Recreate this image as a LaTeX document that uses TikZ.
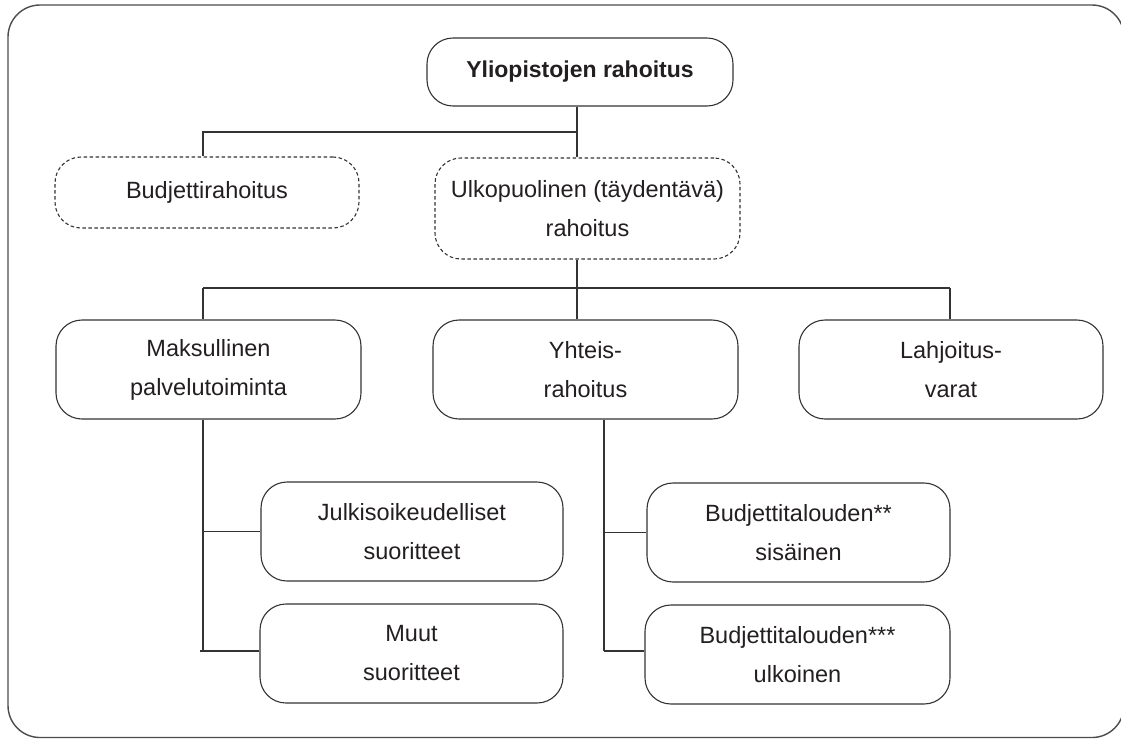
\documentclass[tikz,border=0pt]{standalone}
\usepackage{fontspec}
\setmainfont{Liberation Sans}
\definecolor{ink}{HTML}{231F20}
\definecolor{linec}{HTML}{333333}
\begin{document}
\begin{tikzpicture}[x=1pt,y=-1pt,
  box/.style={draw=linec, line width=1.1pt, rounded corners=26pt, align=center,
    text=ink, font=\fontsize{23.5}{39}\selectfont, inner sep=0pt},
  dbox/.style={box, dash pattern=on 3.5pt off 2.5pt},
  conn/.style={draw=linec, line width=1.1pt}]
\useasboundingbox (0,0) rectangle (1121,740);
\draw[line width=1.4pt, draw=black!70, rounded corners=32pt] (8,5) rectangle (1124,737.5);

\node[box, minimum width=306pt, minimum height=68pt, font=\fontsize{23}{39}\selectfont\bfseries] (top) at (580,72) {Yliopistojen rahoitus};
\node[dbox, minimum width=304pt, minimum height=71pt] (bud) at (207,192.5) {Budjettirahoitus};
\node[dbox, minimum width=305pt, minimum height=101pt] (ulko) at (587.5,208.5) {Ulkopuolinen (täydentävä)\\rahoitus};
\node[box, minimum width=305pt, minimum height=99pt] (mak) at (208.5,369.5) {Maksullinen\\palvelutoiminta};
\node[box, minimum width=305pt, minimum height=99pt] (yht) at (585.5,369.5) {Yhteis-\\rahoitus};
\node[box, minimum width=304pt, minimum height=99pt] (lah) at (951,369.5) {Lahjoitus-\\varat};
\node[box, minimum width=302pt, minimum height=99pt] (jul) at (412,531.5) {Julkisoikeudelliset\\suoritteet};
\node[box, minimum width=303pt, minimum height=99pt] (muu) at (411.5,653.5) {Muut\\suoritteet};
\node[box, minimum width=303pt, minimum height=99pt] (bsis) at (798.5,532.5) {Budjettitalouden**\\sisäinen};
\node[box, minimum width=305pt, minimum height=99pt] (bulk) at (797.5,654.5) {Budjettitalouden***\\ulkoinen};

% helper coordinates
\coordinate (xa) at (203,0);
\coordinate (xb) at (577,0);
\coordinate (xc) at (950,0);
\coordinate (xd) at (604,0);
\coordinate (j1) at (577,132);
\coordinate (j2) at (577,288);
\coordinate (ja) at (203,651);
\coordinate (jb) at (604,651);

% level 1
\draw[conn] (top.south -| xb) -- (ulko.north -| xb);
\draw[conn] (j1) -| (bud.north -| xa);
% level 2
\draw[conn] (ulko.south -| xb) -- (yht.north -| xb);
\draw[conn] (j2 -| xa) -- (j2 -| xc);
\draw[conn] (j2 -| xa) -- (mak.north -| xa);
\draw[conn] (j2 -| xc) -- (lah.north -| xc);
% level 3 left
\draw[conn] (mak.south -| xa) -- (ja);
\draw[conn] (jul.west -| xa) -- (jul.west);
\draw[conn] ([xshift=-3pt]ja) -- (muu.west |- ja);
% level 3 right
\draw[conn] (yht.south -| xd) -- (jb);
\draw[conn] (bsis.west -| xd) -- (bsis.west);
\draw[conn] (jb) -- (bulk.west |- jb);
\end{tikzpicture}
\end{document}
